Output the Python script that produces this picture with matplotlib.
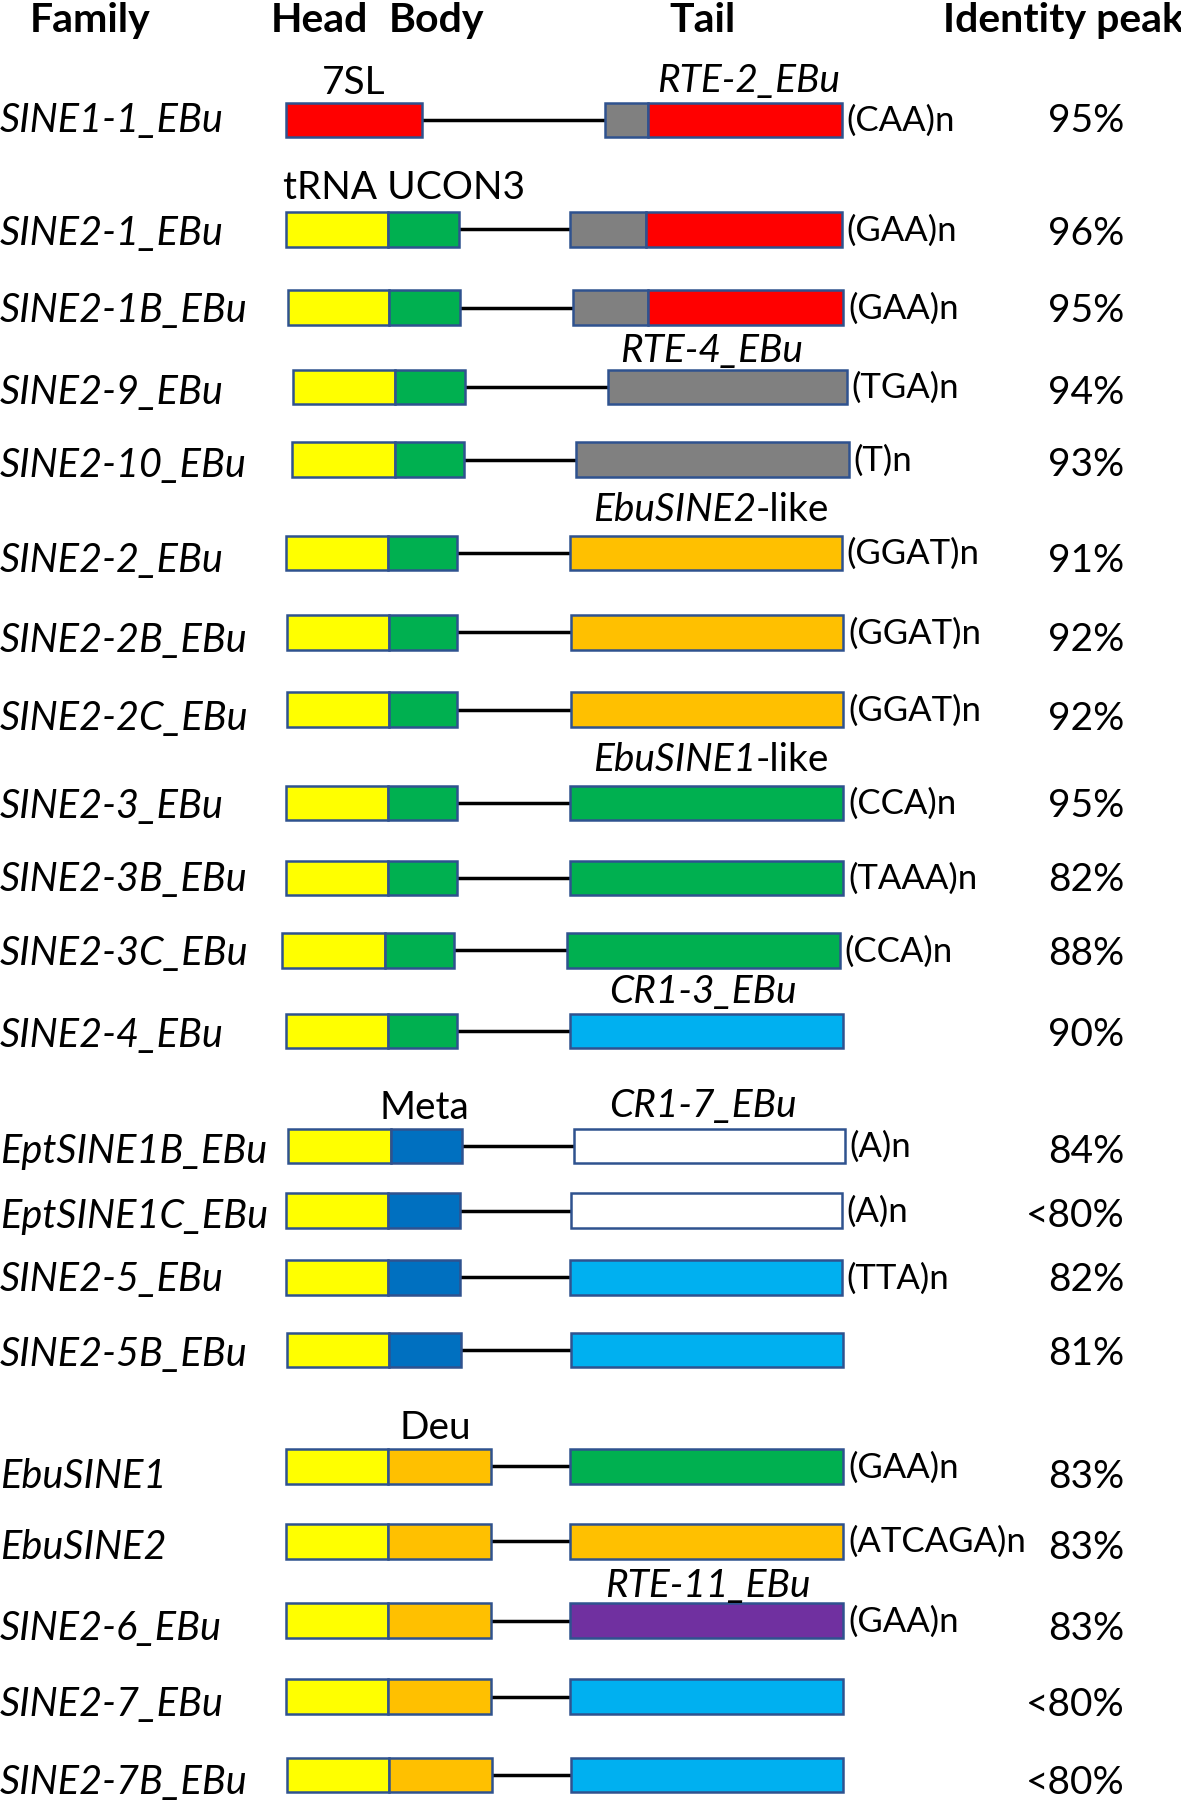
"""SINE family structures: head / body / tail modules with identity peaks"""
import matplotlib.pyplot as plt
from matplotlib.patches import Rectangle

plt.rcParams['font.family'] = ['Lato', 'DejaVu Sans']

# coordinates below are in the units of the 1025 x 1568 drawing
families = ['SINE1-1_EBu', 'SINE2-1_EBu', 'SINE2-1B_EBu', 'SINE2-9_EBu', 'SINE2-10_EBu',
            'SINE2-2_EBu', 'SINE2-2B_EBu', 'SINE2-2C_EBu', 'SINE2-3_EBu', 'SINE2-3B_EBu',
            'SINE2-3C_EBu', 'SINE2-4_EBu', 'EptSINE1B_EBu', 'EptSINE1C_EBu', 'SINE2-5_EBu',
            'SINE2-5B_EBu', 'EbuSINE1', 'EbuSINE2', 'SINE2-6_EBu', 'SINE2-7_EBu', 'SINE2-7B_EBu']
row_y = [105, 200, 268, 337, 400, 481, 550, 617, 698, 763, 826, 896,
         996, 1052, 1110, 1173, 1274, 1339, 1408, 1474, 1542]
label_y = [105, 203, 270, 341, 404, 487, 556, 624, 700, 764, 828, 899,
           1000, 1056, 1111, 1176, 1282, 1344, 1414, 1480, 1548]

head_start = [248, 248, 250, 254, 253, 248, 249, 249, 248, 248, 245, 248,
              250, 248, 248, 249, 248, 248, 248, 248, 249]
head_end = [366, 337, 338, 343, 343, 337, 338, 338, 337, 337, 334, 337,
            339, 337, 337, 338, 337, 337, 337, 337, 338]
body_end = [None, 398, 399, 404, 403, 397, 397, 397, 397, 397, 394, 397,
            401, 399, 399, 400, 426, 426, 426, 426, 427]
tail_start = [525, 495, 497, 528, 500, 495, 496, 496, 495, 495, 492, 495,
              498, 496, 495, 496, 495, 495, 495, 495, 496]
tail_split = [562, 561, 562, None, None, None, None, None, None, None, None, None,
              None, None, None, None, None, None, None, None, None]
tail_end = [731, 731, 732, 735, 737, 731, 732, 732, 732, 732, 729, 732,
            733, 731, 731, 732, 732, 732, 732, 732, 732]

head_kind = ['7SL'] + ['tRNA'] * 20
body_kind = [None] + ['UCON3'] * 11 + ['Meta'] * 4 + ['Deu'] * 5
tail_kind = ['RTE-2', 'RTE-2', 'RTE-2', 'RTE-4', 'RTE-4',
             'EbuSINE2', 'EbuSINE2', 'EbuSINE2', 'EbuSINE1', 'EbuSINE1', 'EbuSINE1',
             'CR1-3', 'CR1-7', 'CR1-7', 'CR1-3', 'CR1-3',
             'EbuSINE1', 'EbuSINE2', 'RTE-11', 'CR1-3', 'CR1-3']
repeats = ['(CAA)n', '(GAA)n', '(GAA)n', '(TGA)n', '(T)n', '(GGAT)n', '(GGAT)n', '(GGAT)n',
           '(CCA)n', '(TAAA)n', '(CCA)n', '', '(A)n', '(A)n', '(TTA)n', '',
           '(GAA)n', '(ATCAGA)n', '(GAA)n', '', '']
identity = ['95%', '96%', '95%', '94%', '93%', '91%', '92%', '92%', '95%', '82%', '88%', '90%',
            '84%', '<80%', '82%', '81%', '83%', '83%', '83%', '<80%', '<80%']

headers = ['Family', 'Head', 'Body', 'Tail', 'Identity peak']
header_x = [78, 277, 379, 610, 923]

# module labels written above the rows: (text, x, y, italic)
notes = [('7SL', 307, 72, False), ('RTE-2_EBu', 650, 70, True),
         ('tRNA UCON3', 351, 163, False), ('RTE-4_EBu', 618, 305, True),
         ('CR1-3_EBu', 610, 861, True), ('Meta', 368, 962, False),
         ('CR1-7_EBu', 610, 960, True), ('Deu', 378, 1240, False),
         ('RTE-11_EBu', 614, 1377, True)]
like_notes = [('EbuSINE2', 443), ('EbuSINE1', 660)]

COLORS = {'7SL': '#FF0000', 'tRNA': '#FFFF00', 'UCON3': '#00B050', 'Meta': '#0070C0',
          'Deu': '#FFC000', 'RTE-2': '#FF0000', 'RTE-4': '#808080', 'EbuSINE2': '#FFC000',
          'EbuSINE1': '#00B050', 'CR1-3': '#00B0F0', 'CR1-7': '#FFFFFF', 'RTE-11': '#7030A0'}
GRAY = '#808080'
EDGE = '#2F528F'
BAR_H = 30
FS = 28.5


def box(ax, x0, x1, y, color):
    ax.add_patch(Rectangle((x0, y - BAR_H / 2), x1 - x0, BAR_H, facecolor=color,
                           edgecolor=EDGE, linewidth=1.8, zorder=3))


fig = plt.figure(figsize=(11.81, 18.06), dpi=100)
ax = fig.add_axes([0, 0, 1, 1])
ax.set_xlim(0, 1025)
ax.set_ylim(1568, 0)
ax.axis('off')

for x, h in zip(header_x, headers):
    ax.text(x, 18, h, ha='center', va='center', fontsize=29.5, fontweight='bold')

for i, fam in enumerate(families):
    y = row_y[i]
    ax.text(0, label_y[i], fam, ha='left', va='center', fontsize=FS, style='italic')
    box(ax, head_start[i], head_end[i], y, COLORS[head_kind[i]])
    link_start = head_end[i]
    if body_kind[i]:
        box(ax, head_end[i], body_end[i], y, COLORS[body_kind[i]])
        link_start = body_end[i]
    ax.plot([link_start, tail_start[i]], [y, y], color='black', lw=2.5, zorder=2)
    if tail_split[i]:
        box(ax, tail_start[i], tail_split[i], y, GRAY)
        box(ax, tail_split[i], tail_end[i], y, COLORS[tail_kind[i]])
    else:
        box(ax, tail_start[i], tail_end[i], y, COLORS[tail_kind[i]])
    if repeats[i]:
        ax.text(tail_end[i] + 4, y, repeats[i], ha='left', va='center', fontsize=25)
    ax.text(976, label_y[i], identity[i], ha='right', va='center', fontsize=28)

for text, x, y, italic in notes:
    ax.text(x, y, text, ha='center', va='center', fontsize=28,
            style='italic' if italic else 'normal')
for name, y in like_notes:
    ax.text(656, y, name, ha='right', va='center', fontsize=28, style='italic')
    ax.text(656, y, '-like', ha='left', va='center', fontsize=28)

fig.savefig('out.png', dpi=100)
